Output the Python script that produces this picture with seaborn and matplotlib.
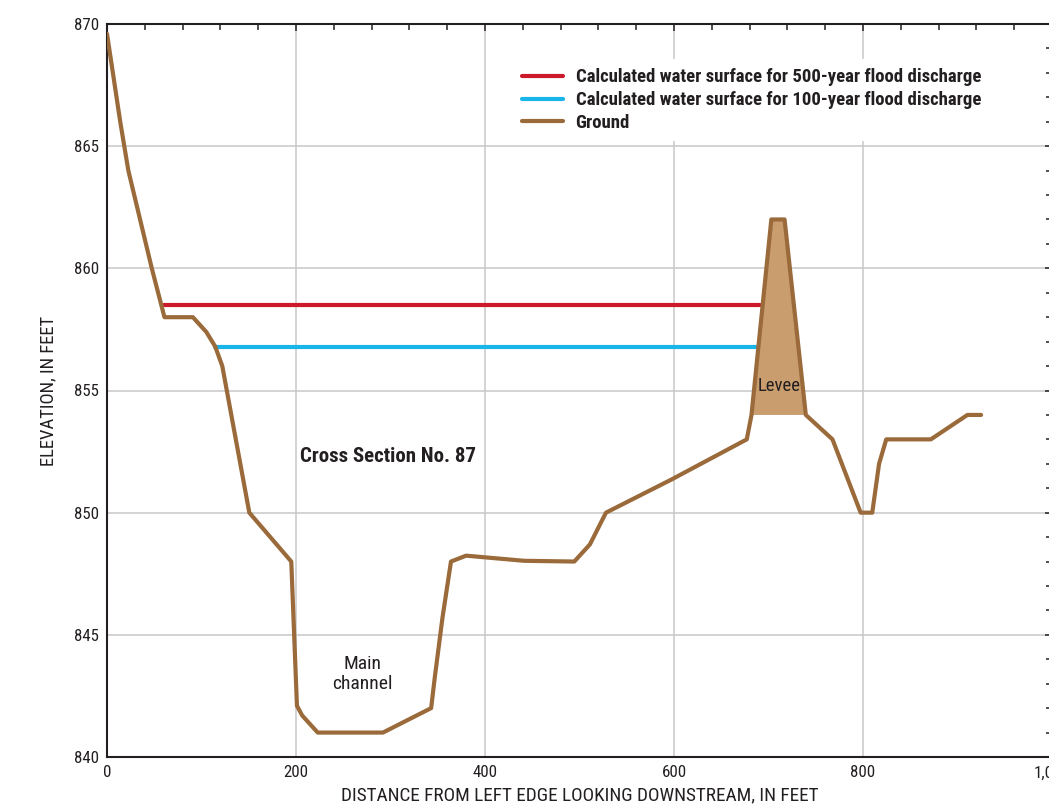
import matplotlib
matplotlib.use("Agg")
import matplotlib.pyplot as plt
import matplotlib.font_manager as fm
import seaborn as sns
import pandas as pd
from matplotlib.ticker import MultipleLocator, FixedLocator

# ---- data ----
ground_x = [0, 14, 22.6, 47.4, 60.8, 90.9, 105, 114.5, 122, 150.6, 195, 201, 206.5, 223,
            292, 343, 347, 355, 364, 380, 441.5, 494.5, 511, 528, 597, 677, 682, 703,
            717, 739.5, 767.7, 797.5, 809.8, 817, 824.6, 871.8, 910.5, 925]
ground_y = [869.6, 866, 864, 860, 858, 858, 857.4, 856.8, 856, 850, 848, 842.1, 841.7, 841,
            841, 842, 843.3, 845.7, 848, 848.24, 848.03, 848, 848.7, 850, 851.35, 853, 854, 862,
            862, 854, 853, 850, 850, 852, 853, 853, 854, 854]
levee_x = [682, 703, 717, 739.5]
levee_y = [854, 862, 862, 854]
ws500_x = [60.8, 691]
ws500_y = [858.5, 858.5]
ws100_x = [114.5, 686.8]
ws100_y = [856.8, 856.8]
x_ticks = [0, 200, 400, 600, 800, 1000]
x_tick_labels = ["0", "200", "400", "600", "800", "1,000"]
y_ticks = [840, 845, 850, 855, 860, 865, 870]
labels = ["Calculated water surface for 500-year flood discharge",
          "Calculated water surface for 100-year flood discharge",
          "Ground"]

sns.set_style("white")

# ---- choose a condensed font if one is available ----
entries = fm.fontManager.ttflist
names = {f.name for f in entries}
family, stretch = None, "normal"
for cand in ["Liberation Sans Narrow", "Roboto Condensed", "Open Sans Condensed",
             "DejaVu Sans Condensed", "Noto Sans Condensed"]:
    if cand in names:
        family = cand
        break
if family is None:
    for f in entries:
        if f.name == "DejaVu Sans" and str(f.stretch) in ("condensed", "semi-condensed"):
            family, stretch = "DejaVu Sans", "condensed"
            break
if family is None:
    for f in entries:
        if ("Narrow" in f.name or "Condensed" in f.name):
            family = f.name
            break
if family is None:
    family = "Liberation Sans" if "Liberation Sans" in names else "DejaVu Sans"

FAM = [family, "DejaVu Sans"]
plt.rcParams["font.family"] = FAM
plt.rcParams["font.stretch"] = stretch

INK = "#231f20"
GROUND = "#9a6a3a"
FILL = "#c99d6e"
RED = "#cc1a2a"
BLUE = "#19b5e8"

fig = plt.figure(figsize=(10.49, 8.10), dpi=100)
ax = fig.add_axes([107 / 1049, 53 / 810, 945 / 1049, 733 / 810])
renderer = fig.canvas.get_renderer()


def fit_size(s, target_px, weight="normal", base=12.0):
    t = fig.text(0, 0, s, fontsize=base, fontweight=weight, fontstretch=stretch)
    w = t.get_window_extent(renderer).width
    h = t.get_window_extent(renderer).height
    t.remove()
    return base * target_px / w, h * target_px / w


ax.fill(levee_x, levee_y, color=FILL, lw=0, zorder=2)

df500 = pd.DataFrame({"x": ws500_x, "y": ws500_y})
df100 = pd.DataFrame({"x": ws100_x, "y": ws100_y})
dfg = pd.DataFrame({"x": ground_x, "y": ground_y})
sns.lineplot(data=df500, x="x", y="y", color=RED, lw=3, sort=False, ax=ax, label=labels[0], zorder=3)
sns.lineplot(data=df100, x="x", y="y", color=BLUE, lw=3, sort=False, ax=ax, label=labels[1], zorder=3)
sns.lineplot(data=dfg, x="x", y="y", color=GROUND, lw=3, sort=False, ax=ax, label=labels[2], zorder=4)

ax.set_xlim(0, 1000)
ax.set_ylim(840, 870)
ax.xaxis.set_major_locator(FixedLocator(x_ticks))
ax.set_xticklabels(x_tick_labels)
ax.yaxis.set_major_locator(FixedLocator(y_ticks))
ax.xaxis.set_minor_locator(MultipleLocator(40))
ax.yaxis.set_minor_locator(MultipleLocator(1))
ax.grid(True, which="major", color="#c8c8c8", lw=1.1, zorder=0)
ax.set_axisbelow(True)
for s in ax.spines.values():
    s.set_color(INK)
    s.set_linewidth(1.5)
    s.set_visible(True)

tick_fs, _ = fit_size("870", 25)
tick_fs = min(tick_fs, 12.5)
ax.tick_params(which="both", direction="in", top=True, right=True, colors=INK,
               labelsize=tick_fs, labelcolor=INK, width=1.1)
ax.tick_params(which="major", length=5, pad=6)
ax.tick_params(which="minor", length=4)
for lab in ax.get_xticklabels() + ax.get_yticklabels():
    lab.set_fontstretch(stretch)

xl = "DISTANCE FROM LEFT EDGE LOOKING DOWNSTREAM, IN FEET"
yl = "ELEVATION, IN FEET"
xl_fs, _ = fit_size(xl, 477)
yl_fs, _ = fit_size(yl, 150)
ax.set_xlabel(xl, fontsize=min(xl_fs, 14), color=INK, labelpad=4, fontstretch=stretch)
ax.set_ylabel(yl, fontsize=min(yl_fs, 14), color=INK, labelpad=12, fontstretch=stretch)

title = "Cross Section No. 87"
t_fs, _ = fit_size(title, 177, weight="bold")
ax.text(204.5, 852.3, title, fontsize=t_fs, fontweight="bold", color=INK,
        ha="left", va="center", zorder=5, fontstretch=stretch)
mc_fs, _ = fit_size("channel", 60)
ax.text(270, 843.4, "Main\nchannel", fontsize=mc_fs, color=INK, ha="center", va="center",
        linespacing=1.15, zorder=5, fontstretch=stretch)
lv_fs, _ = fit_size("Levee", 43)
ax.text(711.5, 855.2, "Levee", fontsize=lv_fs, color=INK, ha="center", va="center", zorder=5,
        fontstretch=stretch)

lg_fs, lg_h = fit_size(labels[0], 407, weight="bold")
fs_px = lg_fs * 100 / 72
lspace = max(0.0, (21.5 - lg_h) / fs_px)
bpad = 9.5 / fs_px
ax_left, ax_w, ax_bottom, ax_h = 107, 945, 757, 733
leg = ax.legend(loc="upper left",
                bbox_to_anchor=((512 - ax_left) / ax_w, (ax_bottom - 59) / ax_h),
                borderaxespad=0, frameon=True, fancybox=False,
                facecolor="white", edgecolor="none", framealpha=1,
                prop=fm.FontProperties(family=FAM, weight="bold", size=lg_fs, stretch=stretch),
                handlelength=41 / fs_px, handletextpad=13 / fs_px,
                labelspacing=lspace, borderpad=bpad)
for t in leg.get_texts():
    t.set_color(INK)
for l in leg.get_lines():
    l.set_linewidth(3)
leg.set_zorder(6)

fig.savefig("out.png", dpi=100)
